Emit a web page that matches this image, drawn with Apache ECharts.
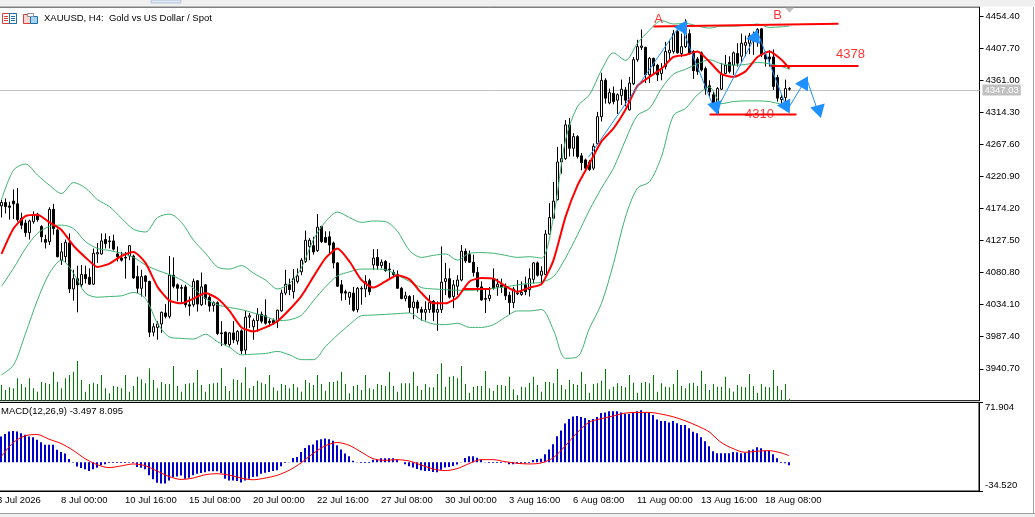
<!DOCTYPE html>
<html><head><meta charset="utf-8">
<style>html,body{margin:0;padding:0;background:#fff}#c{width:1035px;height:517px}</style>
<script src="https://cdn.jsdelivr.net/npm/echarts@6/dist/echarts.min.js"></script>
</head><body><div id="c"></div>
<script>
const priceTicks=[4454.40,4407.70,4361.00,4314.30,4267.60,4220.90,4174.20,4127.50,4080.80,4034.10,3987.40,3940.70];
const macdTicks=[71.904,-34.520];
const macdLabelSpots=[66.25,-28.1];
const timeLabels=['3 Jul 2026','8 Jul 00:00','10 Jul 16:00','15 Jul 08:00','20 Jul 00:00','22 Jul 16:00','27 Jul 08:00','30 Jul 00:00','3 Aug 16:00','6 Aug 08:00','11 Aug 00:00','13 Aug 16:00','18 Aug 08:00'];
const lastPrice=4347.03;
// open, close, low, high per 4-hour bar
const ohlc=[[4176,4178,4170,4185],
[4178,4183,4161,4187],[4183,4177,4167,4189],[4178,4176,4158,4184],[4185,4181,4159,4202],[4181,4158,4155,4204],[4160,4150,4144,4168],[4153,4139,4133,4158],[4139,4156,4129,4158],[4155,4165,4152,4170],[4166,4158,4155,4168],
[4148,4133,4125,4150],[4129,4125,4116,4136],[4126,4173,4121,4176],[4173,4145,4136,4181],[4143,4104,4103,4145],[4099,4111,4092,4124],[4104,4125,4095,4129],[4124,4057,4051,4138],[4057,4072,4040,4085],[4072,4063,4023,4091],
[4063,4078,4060,4092],[4078,4072,4065,4091],[4074,4064,4063,4087],[4064,4109,4063,4116],[4108,4110,4095,4124],[4108,4127,4107,4138],[4129,4123,4116,4138],[4127,4126,4116,4134],[4127,4115,4113,4136],[4108,4104,4097,4119],
[4102,4099,4097,4111],[4103,4102,4072,4111],[4105,4120,4099,4121],[4105,4073,4072,4107],[4075,4058,4051,4091],[4058,4075,4046,4085],[4076,4068,4046,4077],[4068,3994,3987,4069],[3994,4002,3988,4007],[4001,4006,3983,4010],
[4006,4023,3993,4024],[4022,4017,4014,4035],[4017,4077,4014,4105],[4077,4061,4058,4103],[4063,4058,4039,4065],[4059,4058,4036,4063],[4060,4034,4030,4063],[4034,4032,4018,4046],[4034,4068,4031,4072],[4069,4035,4024,4070],
[4034,4060,4032,4081],[4063,4043,4034,4064],[4045,4032,4024,4048],[4033,4037,4024,4039],[4037,3992,3990,4039],[3993,3992,3974,4010],[3994,3977,3974,3995],[3976,3993,3973,3994],[3993,3983,3978,4010],[3981,3995,3976,3997],
[3996,3967,3962,3998],[3968,4016,3961,4025],[4016,4018,4000,4022],[4002,4011,3983,4014],[4011,4020,3995,4029],[4020,4010,4007,4024],[4018,4007,4005,4042],[4010,4008,4002,4014],[4011,4007,4005,4014],[4010,4026,4000,4027],
[4025,4051,4024,4056],[4051,4064,4048,4085],[4063,4056,4048,4072],[4053,4072,4043,4086],[4068,4076,4065,4087],[4082,4099,4077,4102],[4097,4128,4095,4142],[4119,4128,4099,4131],[4120,4111,4107,4133],[4113,4147,4111,4166],
[4148,4126,4124,4149],[4132,4125,4125,4141],[4133,4121,4107,4141],[4124,4095,4087,4126],[4095,4061,4060,4096],[4063,4051,4040,4070],[4053,4051,4041,4056],[4045,4052,4034,4053],[4051,4026,4024,4060],[4027,4058,4023,4060],
[4057,4058,4034,4061],[4057,4068,4045,4077],[4069,4053,4048,4072],[4092,4102,4085,4115],[4103,4091,4085,4115],[4091,4096,4087,4100],[4097,4084,4082,4099],[4086,4085,4070,4095],[4081,4078,4075,4085],[4078,4058,4057,4084],
[4058,4043,4042,4060],[4043,4047,4039,4053],[4046,4030,4022,4048],[4030,4038,4013,4048],[4038,4029,4022,4041],[4027,4023,4011,4031],[4023,4027,4011,4039],[4027,4037,4022,4048],[4039,4023,4010,4041],[4023,4027,3996,4039],
[4027,4067,4022,4119],[4068,4072,4048,4095],[4072,4045,4043,4087],[4046,4063,4029,4070],[4061,4070,4048,4077],[4070,4112,4068,4121],[4112,4098,4095,4116],[4107,4096,4095,4113],[4096,4081,4075,4107],[4081,4060,4053,4089],
[4060,4041,4040,4068],[4043,4042,4022,4056],[4043,4048,4039,4060],[4072,4058,4056,4087],[4060,4064,4047,4072],[4063,4060,4051,4072],[4060,4047,4041,4065],[4048,4037,4019,4053],[4037,4057,4029,4060],[4050,4051,4048,4070],
[4049,4052,4047,4068],[4063,4053,4048,4075],[4056,4072,4046,4087],[4071,4095,4065,4096],[4095,4077,4075,4097],[4077,4083,4065,4090],[4078,4137,4077,4143],[4137,4161,4136,4182],[4160,4185,4159,4213],[4187,4242,4186,4264],
[4242,4247,4225,4268],[4247,4296,4245,4303],[4296,4262,4250,4306],[4262,4279,4250,4284],[4279,4250,4247,4281],[4251,4241,4230,4255],[4245,4233,4230,4247],[4242,4231,4229,4245],[4233,4265,4230,4269],[4269,4308,4267,4315],
[4308,4361,4301,4372],[4361,4335,4327,4364],[4328,4343,4326,4349],[4342,4330,4326,4352],[4332,4340,4312,4342],[4339,4348,4325,4362],[4347,4332,4323,4351],[4318,4357,4317,4366],[4356,4391,4354,4395],[4391,4410,4388,4420],
[4409,4411,4405,4435],[4409,4369,4357,4410],[4369,4393,4357,4395],[4393,4382,4370,4394],[4383,4369,4360,4385],[4371,4378,4361,4386],[4381,4403,4377,4417],[4401,4405,4391,4420],[4403,4429,4400,4434],[4432,4401,4400,4434],
[4400,4410,4395,4429],[4410,4429,4408,4450],[4429,4400,4398,4435],[4403,4375,4363,4405],[4392,4374,4369,4395],[4401,4376,4374,4403],[4378,4349,4340,4381],[4353,4344,4337,4361],[4340,4327,4323,4344],[4313,4349,4312,4351],
[4348,4370,4347,4386],[4371,4383,4370,4398],[4387,4374,4371,4396],[4383,4401,4369,4403],[4400,4386,4381,4415],[4396,4415,4388,4429],[4412,4416,4396,4426],[4415,4426,4399,4430],[4424,4428,4398,4432],[4417,4435,4410,4437],
[4436,4398,4395,4437],[4398,4392,4381,4403],[4395,4392,4381,4405],[4395,4352,4347,4406],[4365,4335,4330,4369],[4333,4336,4327,4340],[4336,4349,4323,4362],[4348,4349,4346,4351]];
const volumes=[40,
47,32,40,37,67,50,40,67,37,27,56,54,50,87,57,37,67,77,87,119,
62,27,50,54,50,77,37,22,44,42,37,77,27,44,72,64,52,97,62,37,
56,50,50,104,44,27,50,52,54,92,47,27,50,52,54,98,44,30,64,62,
54,100,37,44,60,54,50,77,40,30,50,47,37,50,40,27,62,54,47,77,
50,30,56,56,60,87,50,22,44,47,32,77,37,34,50,47,44,87,44,27,
52,52,52,87,44,32,50,40,40,80,112,42,72,74,67,104,50,24,42,44,
44,89,37,30,47,47,44,72,34,17,42,40,54,72,47,27,56,56,52,95,
47,34,62,50,47,87,50,24,50,52,60,95,34,42,52,44,40,77,54,24,
54,56,52,77,27,52,42,40,50,92,44,37,52,54,44,90,50,32,50,42,
42,72,37,27,47,42,40,80,44,24,50,42,40,92,44,32,50,6];
const macdBars=[28,
31,34,37,37.5,37,35,33,31,30,27,24,21,21,21,15,12.5,10.5,4,-0.4,-5,
-7,-8.5,-10.5,-8.5,-6.5,-3.6,-2.4,-0.8,-0.8,-0.8,-0.8,-0.8,-0.4,-0.8,-5.6,-6.5,-8.5,-15.7,-20.5,-24.6,
-25.4,-25.4,-21.8,-18,-17,-16,-19.7,-18.5,-15.7,-13.7,-12.9,-12,-10.9,-10.9,-10.9,-12.9,-19.7,-21.8,-21.8,-22.6,
-24.2,-21.8,-19.7,-17.7,-17,-13.7,-12.5,-11.7,-10.5,-9.7,-4.8,-0.8,0.4,5.2,6.4,12.5,17.3,20.5,21.4,26.6,
27.8,28.6,27.8,25.8,20.5,15.3,10.5,7.3,2,0.4,-0.8,-0.8,-0.8,3.2,3.2,4.8,4.8,4.8,4.8,3.2,
0,-2.4,-4.8,-6.4,-8,-9.7,-10.5,-10.5,-11.7,-12,-8.9,-6.4,-5.6,-4.4,-2.8,0.4,5.2,7.3,7.3,5.6,
3.2,0.4,-0.8,-0.8,-0.8,-0.8,0.4,-2.4,-2.4,-1.6,-1.6,-1.6,-0.8,2.8,4,4.4,9.7,15.3,21.8,31.4,
38.3,46.7,52,55.2,55.6,54.4,53.2,50.8,52,54.4,59.2,60,61.3,61.3,61.3,60,58.4,58.4,60,61.3,
62.5,60,60,56.8,51.6,49.6,49.6,48,49.6,47,44.7,44.7,41,36.7,35,30,25.4,19.3,13.3,10.9,
10.9,10.9,10.9,12.5,12,10.9,11.3,14.5,15.3,18,17,14,14,9.7,4.8,-0.8,-1.2,-3.5];
const sampledBars=[];for(let b=0;b<=195;b+=3)sampledBars.push(b);sampledBars.push(197);
const upperBand=[4187,4230,4239,4223,4208,4196,4212,4204,4187,4177,4160,4144,4140,4161,4166,4154,4128,4109,4089,4086,4091,4080,4070,4057,4065,4088,4129,4155,4169,
4161,4154,4156,4155,4141,4113,4103,4106,4108,4099,4109,4110,4109,4106,4103,4104,4102,4162,4274,4323,4340,4376,4401,4390,4415,4434,4448,4443,4444,4440,4437,4440,4440,4441,4443,4438,4439,4440];
const middleBand=[4061,4087,4116,4138,4148,4150,4145,4126,4116,4113,4109,4103,4092,4084,4078,4070,4058,4043,4034,4030,4027,4022,4017,4011,4012,4019,4040,4060,4076,
4082,4086,4086,4085,4077,4068,4059,4057,4056,4055,4055,4056,4058,4060,4063,4065,4067,4075,4102,4136,4172,4204,4233,4274,4310,4320,4349,4370,4377,4385,4391,4385,4383,4384,4387,4385,4381,4377];
const lowerBand=[3932,3946,3992,4041,4080,4099,4080,4051,4045,4046,4047,4052,4043,4007,3987,3985,3984,3991,3980,3972,3961,3962,3963,3966,3961,3954,3954,3973,3990,
4005,4018,4019,4020,4021,4022,4012,4006,4005,4007,4001,4001,4005,4016,4025,4025,4027,3997,3956,3958,4000,4036,4094,4162,4204,4213,4250,4310,4320,4340,4351,4327,4330,4331,4331,4330,4326,4323];
const movingAverage=[4108,4145,4163,4165,4154,4143,4120,4103,4089,4094,4105,4111,4095,4060,4040,4036,4043,4051,4043,4025,4001,3995,4001,4010,4027,4047,4075,4102,4116,
4097,4070,4059,4068,4077,4071,4051,4036,4036,4045,4068,4073,4072,4061,4053,4059,4064,4099,4162,4208,4240,4272,4291,4318,4353,4366,4378,4395,4398,4403,4388,4370,4366,4374,4395,4403,4391,4378];
const macdSignal=[6.4,23.4,31.8,33.4,27.8,22.6,14.5,4.4,-2.8,-6.4,-4.4,-2,-4,-10.5,-17,-20.6,-19,-15,-13.7,-15.3,-19,-21,-19,-15.7,-9.7,-0.8,10.5,19.7,23.8,
20.5,12.5,4.4,2.4,3.2,1.6,-3.2,-8,-10,-7.7,-1.6,3.2,3.2,0.8,-1.2,-2,-0.8,5.2,19.3,35.5,48,52.4,55.6,59.2,60,60,58,54.8,50,44,36.7,24,16.5,12,13.3,14,11.3,8];
// hand-drawn annotations: [bar position, price]
const resistanceA=[[164,4439.5],[210.25,4443.5]];
const level4378=[[193.25,4382],[215.25,4382]];
const level4310=[[178,4311],[199.75,4311]];
const shortLevel=[[116.25,4057],[123.25,4057]];
const zigzag=[[147.75,4249],[170.75,4442],[179.5,4315],[190,4431],[197.5,4318],[202.25,4364],[205.25,4313]];
const arrowHeads=[[170.75,4438,88],[179,4324,75],[188.75,4423,100],[196.5,4324,88],[201,4356,90],[204.75,4319,75]];
const noteLabels=[[165.25,4450,'A'],[195,4456,'B'],[213.25,4398,'4378'],[190.5,4312,'4310']];
const shiftMark=[[198,4463]];

const cats=[];for(let i=0;i<246;i++)cats.push(i%16===0&&timeLabels[i/16]?timeLabels[i/16]:'');
const toPairs=a=>a.map((v,n)=>[sampledBars[n]+1,v]);
const F='"Liberation Sans",Arial,sans-serif';
const thin=(name,data,color)=>({name,type:'line',data:toPairs(data),xAxisIndex:0,yAxisIndex:0,showSymbol:false,symbol:'none',smooth:0.3,lineStyle:{color,width:1},z:4,silent:true});
const seg=(data,color,width)=>({type:'line',data,xAxisIndex:1,yAxisIndex:0,showSymbol:false,symbol:'none',lineStyle:{color,width},z:6,silent:true});

const chart=echarts.init(document.getElementById('c'),null,{renderer:'canvas',width:1035,height:517});
chart.setOption({
 animation:false,backgroundColor:'#fff',
 grid:[{left:-4.5,top:7,width:984,height:393.7,show:true,borderColor:'#000',borderWidth:1,backgroundColor:'#fff',outerBoundsMode:'none',containLabel:false},
       {left:-5,top:402.5,width:984,height:88.5,show:true,borderColor:'#000',borderWidth:1,backgroundColor:'#fff',outerBoundsMode:'none',containLabel:false}],
 xAxis:[
  {type:'category',gridIndex:0,data:cats,axisLine:{show:false},axisTick:{show:false},axisLabel:{show:false},splitLine:{show:false}},
  {type:'value',gridIndex:0,min:-0.5,max:245.5,show:false,splitLine:{show:false}},
  {type:'category',gridIndex:1,data:cats,axisLine:{onZero:false,lineStyle:{color:'#000'}},
   axisTick:{alignWithLabel:true,length:4,lineStyle:{color:'#000'},interval:i=>i%16===0},
   axisLabel:{interval:0,align:'left',margin:4,fontFamily:F,fontSize:9.5,color:'#000',hideOverlap:false},splitLine:{show:false}}
 ],
 yAxis:[
  {type:'value',gridIndex:0,position:'right',min:3894.2,max:4467.8,axisLine:{show:true,onZero:false,lineStyle:{color:'#000'}},
   axisTick:{show:true,length:4,lineStyle:{color:'#000'},customValues:priceTicks},
   axisLabel:{customValues:priceTicks,formatter:v=>v.toFixed(2),margin:6,fontFamily:F,fontSize:9.5,color:'#000'},splitLine:{show:false}},
  {type:'value',gridIndex:0,min:0,max:1181,show:false,splitLine:{show:false}},
  {type:'value',gridIndex:1,position:'right',min:-34.52,max:71.904,axisLine:{show:true,onZero:false,lineStyle:{color:'#000'}},
   axisTick:{show:true,length:4,lineStyle:{color:'#000'},customValues:macdTicks},
   axisLabel:{customValues:macdLabelSpots,formatter:v=>(v>0?macdTicks[0]:macdTicks[1]).toFixed(3),margin:6,fontFamily:F,fontSize:9.5,color:'#000'},splitLine:{show:false}}
 ],
 series:[
  {name:'Volume',type:'bar',data:volumes,xAxisIndex:0,yAxisIndex:1,barWidth:1,itemStyle:{color:'#008000'},z:1,silent:true},
  {name:'XAUUSD',type:'candlestick',data:ohlc,xAxisIndex:0,yAxisIndex:0,barWidth:2,z:3,silent:true,
   itemStyle:{color:'#fff',color0:'#000',borderColor:'#000',borderColor0:'#000',borderWidth:1},
   markLine:{silent:true,symbol:'none',animation:false,z:2,data:[{yAxis:lastPrice}],lineStyle:{color:'#c0c0c0',width:1,type:'solid'},
    label:{position:'end',distance:3,formatter:()=>lastPrice.toFixed(2),color:'#fff',backgroundColor:'#c0c0c0',padding:[1,2,0,2],fontFamily:F,fontSize:9.5}}},
  thin('Upper band',upperBand,'#3cb371'),thin('Middle band',middleBand,'#3cb371'),thin('Lower band',lowerBand,'#3cb371'),
  {name:'MA',type:'line',data:toPairs(movingAverage),xAxisIndex:0,yAxisIndex:0,showSymbol:false,symbol:'none',smooth:0.2,lineStyle:{color:'#ff0000',width:2},z:5,silent:true},
  seg(resistanceA,'#ff0000',2),seg(level4378,'#ff0000',2),seg(level4310,'#ff0000',2),seg(shortLevel,'#ff0000',2),
  seg(zigzag,'#1e90ff',1),
  {type:'scatter',xAxisIndex:1,yAxisIndex:0,z:7,silent:true,symbol:'triangle',symbolSize:[15,13],itemStyle:{color:'#1e90ff',opacity:1},
   data:arrowHeads.map(a=>({value:[a[0],a[1]],symbolRotate:a[2]}))},
  {type:'scatter',xAxisIndex:1,yAxisIndex:0,z:7,silent:true,symbol:'triangle',symbolSize:[9,5],symbolRotate:180,itemStyle:{color:'#c0c0c0',opacity:1},data:shiftMark},
  {type:'scatter',xAxisIndex:1,yAxisIndex:0,z:8,silent:true,symbolSize:0,
   data:noteLabels.map(a=>({value:[a[0],a[1]],label:{show:true,position:'inside',formatter:a[2],color:'#ff0000',fontFamily:F,fontSize:13}}))},
  {name:'MACD',type:'bar',data:macdBars,xAxisIndex:2,yAxisIndex:2,barWidth:2,itemStyle:{color:'#0000cd'},z:3,silent:true},
  {name:'Signal',type:'line',data:toPairs(macdSignal),xAxisIndex:2,yAxisIndex:2,showSymbol:false,symbol:'none',smooth:0.3,lineStyle:{color:'#ff0000',width:1},z:4,silent:true}
 ],
 graphic:[
  {type:'rect',shape:{x:0,y:0,width:1035,height:6.5},style:{fill:'#f0f0f0'},silent:true,z:100},
  {type:'rect',shape:{x:151,y:0,width:30,height:3},style:{fill:'#dce8f5',stroke:'#b8c4d4'},silent:true,z:100},
  {type:'rect',shape:{x:0,y:513,width:1035,height:1},style:{fill:'#a0a0a0'},silent:true,z:100},
  {type:'rect',shape:{x:0,y:514,width:1035,height:3},style:{fill:'#f0f0f0'},silent:true,z:100},
  {type:'rect',shape:{x:1033,y:7,width:1,height:506},style:{fill:'#a0a0a0'},silent:true,z:100},
  {type:'rect',shape:{x:2.5,y:13.5,width:14,height:10},style:{fill:'#fff',stroke:'#d8403a'},silent:true,z:100},
  {type:'rect',shape:{x:9.5,y:13.5,width:7,height:10},style:{fill:'#fff',stroke:'#1a6fb5'},silent:true,z:100},
  {type:'rect',shape:{x:4,y:16,width:4,height:1},style:{fill:'#d8403a'},silent:true,z:100},
  {type:'rect',shape:{x:4,y:18,width:4,height:1},style:{fill:'#d8403a'},silent:true,z:100},
  {type:'rect',shape:{x:4,y:20,width:4,height:1},style:{fill:'#d8403a'},silent:true,z:100},
  {type:'rect',shape:{x:11,y:16,width:4,height:1},style:{fill:'#1a6fb5'},silent:true,z:100},
  {type:'rect',shape:{x:11,y:18,width:4,height:1},style:{fill:'#1a6fb5'},silent:true,z:100},
  {type:'rect',shape:{x:11,y:20,width:4,height:1},style:{fill:'#1a6fb5'},silent:true,z:100},
  {type:'rect',shape:{x:23.5,y:14.5,width:7,height:9},style:{fill:'#fbd5cf',stroke:'#d8403a'},silent:true,z:100},
  {type:'rect',shape:{x:30.5,y:16.5,width:7,height:7},style:{fill:'#a8d4f0',stroke:'#1a6fb5'},silent:true,z:100},
  {type:'rect',shape:{x:27.5,y:13.5,width:6,height:3},style:{fill:'#fff',stroke:'#909090'},silent:true,z:100},
  {type:'text',left:44,top:13,style:{text:'XAUUSD, H4:  Gold vs US Dollar / Spot',fill:'#000',font:'9.5px '+F},silent:true,z:100},
  {type:'text',left:1,top:406,style:{text:'MACD(12,26,9) -3.497 8.095',fill:'#000',font:'9.5px '+F},silent:true,z:100}
 ]
});
</script></body></html>
